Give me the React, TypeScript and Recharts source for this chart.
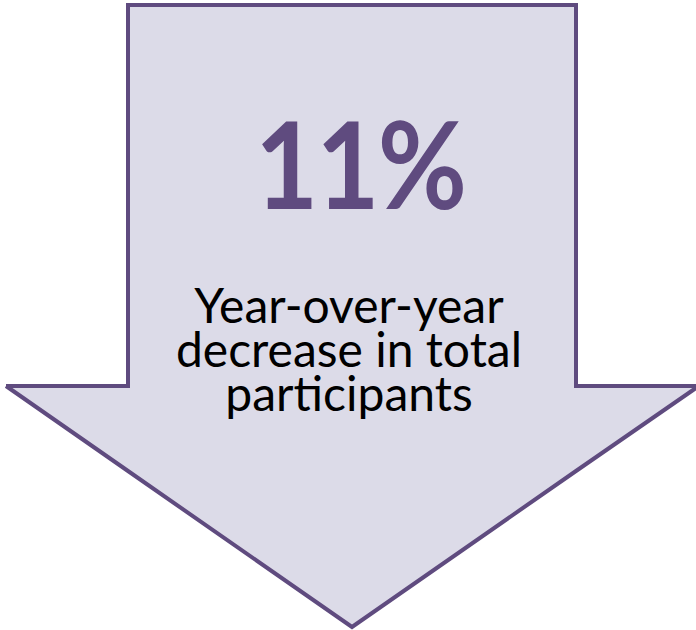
import { ComposedChart, Area, XAxis, YAxis } from "recharts"

// arrow outline, in picture units (x to the right, y downward)
const arrowX = [6, 128, 128, 352, 576, 576, 696]
const arrowTop = [386, 386, 5, 5, 5, 386, 386]
const arrowBottom = [386, 471, 471, 627, 471, 471, 388]

const headline = "11%"
const captionLines = ["Year-over-year", "decrease in total", "participants"]

const arrowData = arrowX.map((x, i) => ({ x, band: [arrowBottom[i], arrowTop[i]] }))

const W = 696
const H = 630
const PURPLE = "#5f4b7f"

export default function App() {
  return (
    <div style={{ position: "absolute", left: 0, top: 0, width: W, height: H, background: "#fff" }}>
      <ComposedChart width={W} height={H} data={arrowData} margin={{ top: 0, right: 0, bottom: 0, left: 0 }}>
        <XAxis dataKey="x" type="number" domain={[0, W]} hide allowDataOverflow />
        <YAxis type="number" domain={[0, H]} reversed hide allowDataOverflow />
        <Area
          type="linear"
          dataKey="band"
          fill="#dcdbe8"
          fillOpacity={1}
          stroke={PURPLE}
          strokeWidth={4}
          strokeLinejoin="miter"
          dot={false}
          activeDot={false}
          isAnimationActive={false}
        />
      </ComposedChart>
      <div
        style={{
          position: "absolute",
          left: 0,
          width: W,
          top: 88,
          textAlign: "center",
          fontFamily: "Lato, sans-serif",
          fontWeight: 700,
          fontSize: 121,
          lineHeight: "150px",
          letterSpacing: -2,
          color: PURPLE,
          transform: "translateX(12px) scaleX(0.9)",
        }}
      >
        {headline}
      </div>
      <div
        style={{
          position: "absolute",
          left: 0,
          width: W,
          top: 283,
          textAlign: "center",
          fontFamily: "Lato, sans-serif",
          fontWeight: 400,
          fontSize: 48,
          lineHeight: "44px",
          color: "#000",
          paddingLeft: 2,
          boxSizing: "border-box",
        }}
      >
        {captionLines.map((l) => (
          <div key={l}>{l}</div>
        ))}
      </div>
    </div>
  )
}
